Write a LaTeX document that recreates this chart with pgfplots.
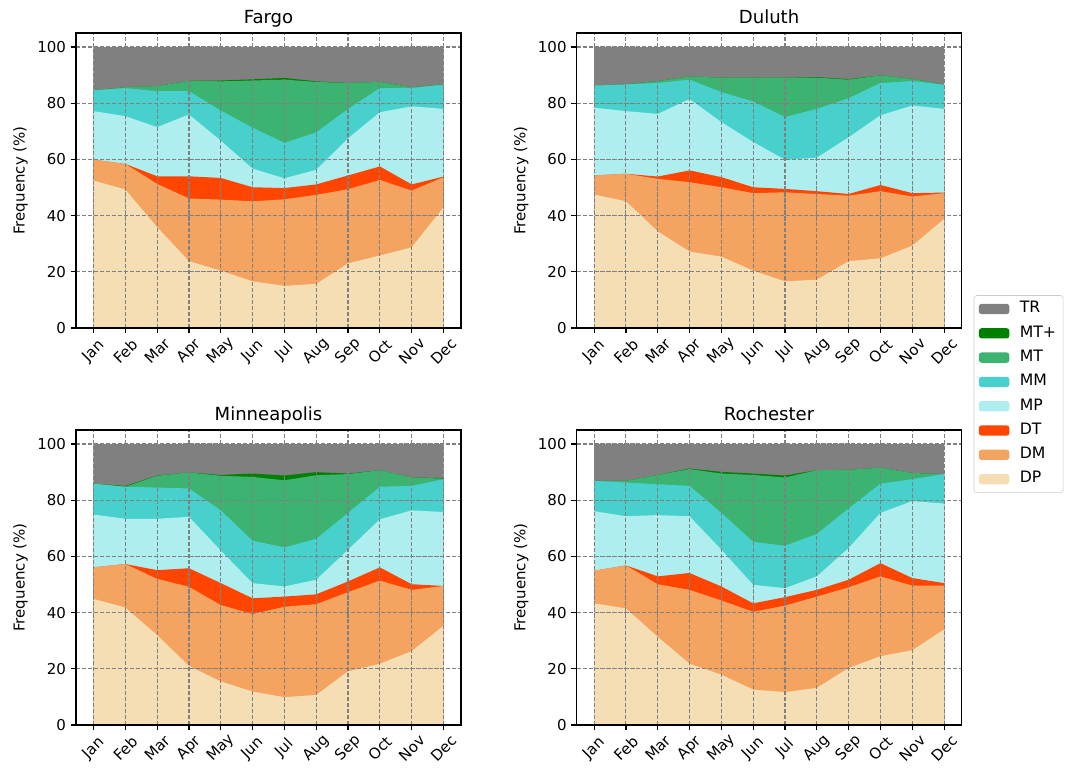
\documentclass[border=0pt]{standalone}
\usepackage{pgfplots}
\pgfplotsset{compat=1.18}
\usepackage{pgfplotstable}
\usepackage{fontspec}
\setmainfont{DejaVu Sans}
\definecolor{cTR}{HTML}{808080}
\definecolor{cMTp}{HTML}{008000}
\definecolor{cMT}{HTML}{3CB371}
\definecolor{cMM}{HTML}{48D1CC}
\definecolor{cMP}{HTML}{AFEEEE}
\definecolor{cDT}{HTML}{FF4500}
\definecolor{cDM}{HTML}{F4A460}
\definecolor{cDP}{HTML}{F5DEB3}

% cumulative (stacked) frequencies
\pgfplotstableread{
x TR MTp MT MM MP DT DM DP
0 100 84.6 84.6 84.6 77.2 59.9 59.9 52.5
1 100 85.7 85.7 85.4 75.4 58.4 58.4 49.3
2 100 86.1 86.1 84.3 71.5 54.0 51.3 35.9
3 100 88.0 88.0 84.3 76.0 54.0 46.1 23.8
4 100 88.1 87.8 77.4 66.7 53.4 45.7 20.4
5 100 88.5 88.1 71.3 56.7 50.1 45.1 16.6
6 100 89.0 88.4 65.9 53.3 49.8 45.8 15.0
7 100 87.8 87.6 69.6 56.3 51.1 47.4 15.7
8 100 87.2 87.2 78.0 67.5 54.3 49.4 23.0
9 100 87.6 87.6 85.4 76.8 57.5 52.7 25.8
10 100 85.7 85.7 85.4 78.9 51.1 48.9 28.7
11 100 86.7 86.7 86.6 78.0 53.9 53.7 43.0
}\fargo
\pgfplotstableread{
x TR MTp MT MM MP DT DM DP
0 100 86.3 86.3 86.3 78.4 54.3 54.3 47.5
1 100 86.7 86.7 86.7 77.2 54.9 54.9 45.1
2 100 87.9 87.9 87.2 76.2 53.9 53.1 34.4
3 100 89.5 89.5 88.4 81.5 56.1 51.9 27.2
4 100 89.1 89.1 84.0 73.3 53.7 50.1 25.4
5 100 89.1 89.1 80.6 66.2 50.1 48.0 20.4
6 100 89.1 89.1 75.1 59.9 49.5 48.3 16.6
7 100 89.3 89.1 78.0 60.6 48.7 47.7 17.2
8 100 88.6 88.4 81.8 67.9 47.7 47.1 23.8
9 100 89.9 89.9 87.2 75.7 50.9 48.7 24.8
10 100 88.7 88.7 87.9 79.2 48.0 46.8 29.3
11 100 86.6 86.6 86.6 78.0 48.2 48.0 38.8
}\duluth
\pgfplotstableread{
x TR MTp MT MM MP DT DM DP
0 100 85.9 85.9 85.9 74.9 56.1 56.1 44.9
1 100 85.1 84.8 84.8 73.4 57.3 57.3 41.8
2 100 88.8 88.7 84.5 73.4 55.1 52.0 32.0
3 100 89.9 89.9 84.2 74.1 55.8 49.2 21.0
4 100 89.0 88.7 76.4 62.1 50.5 42.7 15.5
5 100 89.5 88.3 65.6 50.5 45.1 39.5 11.9
6 100 88.8 87.1 63.2 49.3 45.7 42.1 9.9
7 100 90.0 88.9 66.3 51.7 46.5 43.0 10.7
8 100 89.5 89.3 75.5 62.4 51.1 47.3 19.1
9 100 90.7 90.7 84.8 73.2 56.1 51.4 21.8
10 100 88.1 88.1 85.1 76.4 50.1 48.1 26.3
11 100 87.9 87.7 87.5 75.8 49.5 49.5 35.3
}\minneapolis
\pgfplotstableread{
x TR MTp MT MM MP DT DM DP
0 100 86.9 86.9 86.9 76.1 54.9 54.9 43.3
1 100 86.9 86.9 86.3 74.3 56.8 56.8 41.5
2 100 89.0 89.0 85.7 74.7 52.9 50.1 31.4
3 100 91.3 91.1 85.1 74.3 54.1 48.1 21.8
4 100 90.1 89.5 75.5 62.4 49.3 44.3 17.9
5 100 89.5 89.0 65.2 49.9 43.3 40.3 12.6
6 100 88.8 88.1 63.8 48.7 45.5 42.5 11.7
7 100 90.7 90.7 68.0 52.9 48.1 45.7 13.2
8 100 90.8 90.8 77.1 63.0 51.7 49.0 20.3
9 100 91.6 91.6 85.9 75.5 57.6 52.9 24.5
10 100 89.7 89.7 87.5 79.7 52.3 49.6 26.6
11 100 89.3 89.3 89.3 78.8 50.5 49.6 34.0
}\rochester

\pgfplotsset{
  panel/.style={
    anchor=north west, scale only axis,
    width=277.2bp, height=212.4bp,
    xmin=-0.55, xmax=11.55, ymin=0, ymax=105,
    xtick={0,...,11},
    xticklabels={Jan,Feb,Mar,Apr,May,Jun,Jul,Aug,Sep,Oct,Nov,Dec},
    ytick={0,20,...,100},
    xtick pos=bottom, ytick pos=left,
    tick align=outside, major tick length=3.7bp,
    every tick/.style={black, line width=0.85bp},
    axis line style={line width=0.85bp},
    grid=major,
    major grid style={gray, line width=0.8bp, dash pattern=on 3bp off 1.3bp},
    axis on top,
    ylabel={Frequency (\%)},
    tick label style={font=\fontsize{10.8bp}{13bp}\selectfont},
    label style={font=\fontsize{10.8bp}{13bp}\selectfont},
    title style={font=\fontsize{13bp}{15bp}\selectfont, at={(0.5,1)}, anchor=base, yshift=1.2bp},
    xticklabel style={yshift=-13bp, rotate=45, anchor=center},
    /pgf/number format/assume math mode=true,
    legend image code/.code={\fill[##1] (0bp,-3.7bp) rectangle (22bp,3.7bp);},
    every axis plot/.append style={draw=none, no markers, sharp plot},
  },
}

\newcommand\panel[5]{%
\begin{axis}[panel, at={(#1*0.72bp,-#2*0.72bp)}, title={#3}, #5]
\addplot[fill=cTR] table[x=x,y=TR]{#4} \closedcycle;
\addplot[fill=cMTp] table[x=x,y=MTp]{#4} \closedcycle;
\addplot[fill=cMT] table[x=x,y=MT]{#4} \closedcycle;
\addplot[fill=cMM] table[x=x,y=MM]{#4} \closedcycle;
\addplot[fill=cMP] table[x=x,y=MP]{#4} \closedcycle;
\addplot[fill=cDT] table[x=x,y=DT]{#4} \closedcycle;
\addplot[fill=cDM] table[x=x,y=DM]{#4} \closedcycle;
\addplot[fill=cDP] table[x=x,y=DP]{#4} \closedcycle;
\end{axis}}

\begin{document}
\begin{tikzpicture}
\useasboundingbox (0,0) rectangle (773.28bp,-554.4bp);
\panel{76}{33}{Fargo}{\fargo}{}
\panel{576.6}{33}{Duluth}{\duluth}{
  legend entries={TR,MT+,MT,MM,MP,DT,DM,DP},
  legend style={at={(1.0315,-0.224)}, anchor=west, draw=black!20,
    rounded corners=2bp, font=\fontsize{11.3bp}{13bp}\selectfont,
    row sep=4bp, inner xsep=3.5bp, inner ysep=3bp,
    nodes={inner sep=1.5bp, text height=8bp, text depth=2.5bp},
    /tikz/every odd column/.append style={column sep=6bp},
    cells={anchor=west}}}
\panel{76}{430}{Minneapolis}{\minneapolis}{}
\panel{576.6}{430}{Rochester}{\rochester}{}
\end{tikzpicture}
\end{document}
